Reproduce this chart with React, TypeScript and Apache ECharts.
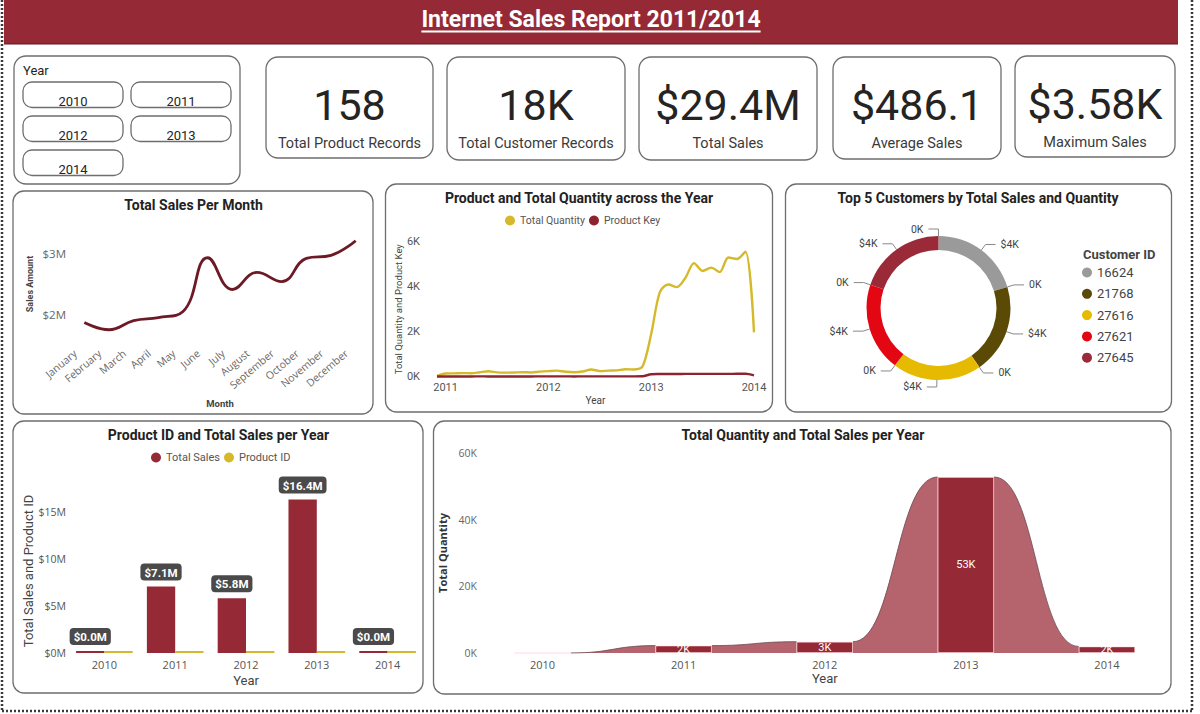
import React, { useEffect, useRef } from 'react';
import * as echarts from 'echarts';

// ---------- fonts & colours ----------
const DIN = "Roboto, 'Noto Sans', sans-serif";
const SEGOE = "'Open Sans', 'Noto Sans', sans-serif";
const MAROON = '#952a36';
const LINE_RED = '#6d1a26';
const GOLD = '#d6b92a';
const RIBBON = '#b5636c';
const CARD_STROKE = '#6e6e6e';

// ---------- data ----------
const reportTitle = 'Internet Sales Report 2011/2014';
const slicerYears = ['2010', '2011', '2012', '2013', '2014'];

const kpiValues = ['158', '18K', '$29.4M', '$486.1', '$3.58K'];
const kpiLabels = ['Total Product Records', 'Total Customer Records', 'Total Sales', 'Average Sales', 'Maximum Sales'];

const months = ['January', 'February', 'March', 'April', 'May', 'June', 'July', 'August', 'September', 'October', 'November', 'December'];
const monthlySales = [1.87e6, 1.75e6, 1.9e6, 1.95e6, 2.05e6, 2.93e6, 2.41e6, 2.69e6, 2.54e6, 2.92e6, 2.97e6, 3.21e6];

const quantityMonths = [
  '2010-12',
  '2011-01', '2011-02', '2011-03', '2011-04', '2011-05', '2011-06', '2011-07', '2011-08', '2011-09', '2011-10', '2011-11', '2011-12',
  '2012-01', '2012-02', '2012-03', '2012-04', '2012-05', '2012-06', '2012-07', '2012-08', '2012-09', '2012-10', '2012-11', '2012-12',
  '2013-01', '2013-02', '2013-03', '2013-04', '2013-05', '2013-06', '2013-07', '2013-08', '2013-09', '2013-10', '2013-11', '2013-12',
  '2014-01',
];
const monthlyQuantity = [
  40,
  140, 150, 160, 155, 200, 240, 190, 180, 185, 200, 190, 225,
  250, 270, 220, 200, 230, 320, 250, 270, 280, 330, 320, 460,
  1900, 3750, 4100, 3980, 4400, 5050, 4700, 4850, 4650, 5300, 5230, 5560,
  1970,
];
const monthlyProductKey = [
  10,
  12, 11, 12, 12, 13, 12, 11, 12, 12, 12, 12, 13,
  13, 14, 13, 12, 13, 14, 13, 13, 14, 14, 14, 20,
  110, 118, 120, 122, 124, 125, 126, 125, 126, 127, 128, 128,
  60,
];

const customerIds = ['16624', '21768', '27616', '27621', '27645'];
const customerSales = [3979, 3942, 3915, 3901, 3880];
const customerQuantity = [2, 3, 2, 2, 3];
const customerColors = ['#9a9a9a', '#5b4a06', '#e6ba00', '#e30613', '#9b2a38'];

const years = ['2010', '2011', '2012', '2013', '2014'];
const yearlySales = [43421, 7075526, 5842485, 16351550, 45695];
const yearlyProductId = [6, 38, 45, 158, 142];
const yearlyQuantity = [14, 2216, 3397, 52801, 1970];

// ---------- layout ----------
const kpiBoxes = [
  [266, 57, 167, 101],
  [447, 57, 178, 103],
  [639, 57, 178, 103],
  [833, 57, 168, 102],
  [1015, 56, 160, 101],
];
const chartBoxes = [
  [13, 191, 360, 223],
  [385.5, 184, 387, 228],
  [785.5, 184, 386, 228],
  [13, 421, 410, 272],
  [433.5, 421, 737.5, 273],
];
const chartTitles = [
  { text: 'Total Sales Per Month', x: 193.5, y: 205 },
  { text: 'Product and Total Quantity across the Year', x: 579, y: 198 },
  { text: 'Top 5 Customers by Total Sales and Quantity', x: 978, y: 198 },
  { text: 'Product ID and Total Sales per Year', x: 218.5, y: 434.5 },
  { text: 'Total Quantity and Total Sales per Year', x: 803, y: 434.5 },
];
const slicerButtons = [
  [23, 82], [131, 82], [23, 116], [131, 116], [23, 150],
];

function textWidth(text: string, font: string): number {
  const ctx = document.createElement('canvas').getContext('2d');
  if (!ctx) return text.length * 10;
  ctx.font = font;
  return ctx.measureText(text).width;
}

function card(x: number, y: number, w: number, h: number, r = 10): any {
  return {
    type: 'rect',
    z: 0,
    shape: { x, y, width: w, height: h, r },
    style: { fill: 'none', stroke: CARD_STROKE, lineWidth: 1.3 },
  };
}

function label(text: string, x: number, y: number, opts: any = {}): any {
  return {
    type: 'text',
    z: 10,
    x,
    y,
    style: {
      text,
      fill: opts.fill || '#222',
      fontSize: opts.fontSize || 13,
      fontFamily: opts.fontFamily || DIN,
      fontWeight: opts.fontWeight || 'normal',
      textAlign: opts.align || 'center',
      textVerticalAlign: 'middle',
    },
  };
}

function buildGraphics(): any[] {
  const g: any[] = [];
  // dotted page frame
  const dots = { stroke: '#3a3a3a', lineWidth: 2.5, lineDash: [2, 2] };
  g.push({ type: 'line', z: 0, shape: { x1: 2, y1: 0, x2: 2, y2: 712 }, style: dots });
  g.push({ type: 'line', z: 0, shape: { x1: 2, y1: 711, x2: 1192, y2: 711 }, style: dots });
  g.push({ type: 'line', z: 0, shape: { x1: 1192, y1: 0, x2: 1192, y2: 712 }, style: dots });

  // header band
  g.push({ type: 'rect', z: 1, shape: { x: 4, y: 0, width: 1174, height: 44 }, style: { fill: MAROON } });
  g.push({ type: 'line', z: 1, shape: { x1: 4, y1: 44, x2: 1178, y2: 44 }, style: { stroke: '#5e1a22', lineWidth: 1 } });
  const titleFont = `bold 23px ${DIN}`;
  const tw = textWidth(reportTitle, titleFont);
  g.push(label(reportTitle, 591, 19.5, { fill: '#ffffff', fontSize: 23, fontWeight: 'bold' }));
  g.push({ type: 'line', z: 10, shape: { x1: 591 - tw / 2, y1: 31.5, x2: 591 + tw / 2, y2: 31.5 }, style: { stroke: '#ffffff', lineWidth: 2 } });

  // year slicer
  g.push(card(14, 56, 226, 128, 12));
  g.push(label('Year', 23, 70, { fontSize: 13, align: 'left', fill: '#252423' }));
  slicerButtons.forEach(([bx, by], i) => {
    g.push(card(bx, by, 100, 25.5, 9));
    g.push(label(slicerYears[i], bx + 50, by + 19, { fontSize: 13, fill: '#252423' }));
  });

  // KPI cards
  kpiBoxes.forEach(([x, y, w, h], i) => {
    g.push(card(x, y, w, h, 12));
    g.push(label(kpiValues[i], x + w / 2, y + 48, { fontSize: 43, fill: '#252423' }));
    g.push(label(kpiLabels[i], x + w / 2, y + 86, { fontSize: 14.5, fill: '#3a3a3a' }));
  });

  // chart cards and titles
  chartBoxes.forEach(([x, y, w, h]) => g.push(card(x, y, w, h, 11)));
  chartTitles.forEach((t) => g.push(label(t.text, t.x, t.y, { fontSize: 14, fontWeight: 'bold', fill: '#222' })));

  // donut legend heading
  g.push(label('Customer ID', 1083, 254, { fontSize: 13, fontWeight: 'bold', align: 'left', fill: '#444' }));
  return g;
}

function renderRibbon(_params: any, api: any) {
  const i = api.value(0);
  const from = api.coord([i, api.value(1)]);
  const to = api.coord([i + 1, api.value(2)]);
  const base = api.coord([i, 0])[1];
  const half = api.size([1, 0])[0] * 0.2;
  const x1 = from[0] + half;
  const x2 = to[0] - half;
  const xm = (x1 + x2) / 2;
  const top = `M${x1} ${from[1]} C${xm} ${from[1]} ${xm} ${to[1]} ${x2} ${to[1]}`;
  return {
    type: 'group',
    children: [
      { type: 'path', shape: { pathData: `${top} L${x2} ${base} L${x1} ${base} Z` }, style: { fill: RIBBON } },
      { type: 'path', shape: { pathData: top }, style: { fill: 'none', stroke: '#6b4a4f', lineWidth: 0.8 } },
    ],
  };
}

function buildOption(): any {
  const axisName = (size: number, weight: any = 'normal', color = '#444', family = DIN) => ({
    fontSize: size, fontWeight: weight, color, fontFamily: family,
  });
  const hidden = { show: false };

  const pieData: any[] = [];
  customerIds.forEach((id, i) => {
    pieData.push({ name: id, value: customerSales[i], measure: 'sales', itemStyle: { color: customerColors[i] } });
    pieData.push({ name: id, value: customerQuantity[i], measure: 'quantity', itemStyle: { color: customerColors[i] } });
  });

  const ribbonData = yearlyQuantity.slice(0, -1).map((q, i) => [i, q, yearlyQuantity[i + 1]]);

  return {
    animation: false,
    backgroundColor: '#ffffff',
    graphic: { elements: buildGraphics() },
    grid: [
      { left: 72, top: 223, width: 296, height: 122 },
      { left: 437, top: 241.7, width: 317, height: 135 },
      { left: 69, top: 488.8, width: 354, height: 164.2 },
      { left: 472, top: 453, width: 705.5, height: 200 },
    ],
    legend: [
      {
        data: ['Total Quantity', 'Product Key'],
        left: 505, top: 215, padding: 0, itemGap: 4, icon: 'circle', itemWidth: 10, itemHeight: 10,
        textStyle: { fontSize: 10.5, color: '#555', fontFamily: DIN },
      },
      {
        data: customerIds,
        orient: 'vertical', left: 1082, top: 266, padding: 0, itemGap: 8.3, icon: 'circle', itemWidth: 10, itemHeight: 10,
        textStyle: { fontSize: 13, color: '#444', fontFamily: DIN },
      },
      {
        data: ['Total Sales', 'Product ID'],
        left: 151, top: 452, padding: 0, itemGap: 4, icon: 'circle', itemWidth: 10, itemHeight: 10,
        textStyle: { fontSize: 11, color: '#555', fontFamily: DIN },
      },
    ],
    xAxis: [
      {
        gridIndex: 0, type: 'category', data: months, boundaryGap: true,
        axisLine: hidden, axisTick: hidden,
        axisLabel: { interval: 0, rotate: 40, margin: -1, padding: [0, 12, 0, 0], fontSize: 10.5, color: '#6a6a6a', fontFamily: SEGOE },
        name: 'Month', nameLocation: 'middle', nameGap: 53, nameTextStyle: axisName(9.5, 'bold'),
      },
      {
        gridIndex: 1, type: 'category', data: quantityMonths, boundaryGap: false,
        axisLine: hidden, axisTick: hidden,
        axisLabel: {
          interval: (_i: number, v: string) => v.endsWith('-01'),
          formatter: (v: string) => v.slice(0, 4),
          margin: 5, fontSize: 11, color: '#555', fontFamily: DIN,
        },
        name: 'Year', nameLocation: 'middle', nameGap: 19, nameTextStyle: axisName(10),
      },
      {
        gridIndex: 2, type: 'category', data: years,
        axisLine: hidden, axisTick: hidden,
        axisLabel: { margin: 6, fontSize: 11, color: '#555', fontFamily: SEGOE },
        name: 'Year', nameLocation: 'middle', nameGap: 21, nameTextStyle: axisName(13),
      },
      {
        gridIndex: 3, type: 'category', data: years,
        axisLine: hidden, axisTick: hidden,
        axisLabel: { margin: 6, fontSize: 11, color: '#555', fontFamily: SEGOE },
        name: 'Year', nameLocation: 'middle', nameGap: 19, nameTextStyle: axisName(13),
      },
    ],
    yAxis: [
      {
        gridIndex: 0, type: 'value', min: 1.5e6, max: 3.5e6, interval: 5e5,
        splitLine: hidden, axisLine: hidden, axisTick: hidden,
        axisLabel: {
          formatter: (v: number) => (v % 1e6 === 0 ? `$${v / 1e6}M` : ''),
          margin: 6, fontSize: 11.5, color: '#666', fontFamily: SEGOE,
        },
        name: 'Sales Amount', nameLocation: 'middle', nameGap: 38, nameTextStyle: axisName(9, 'bold'),
      },
      {
        gridIndex: 1, type: 'value', min: 0, max: 6000, interval: 2000,
        splitLine: hidden, axisLine: hidden, axisTick: hidden,
        axisLabel: { formatter: (v: number) => `${v / 1000}K`, margin: 17, fontSize: 11, color: '#555', fontFamily: DIN },
        name: 'Total Quantity and Product Key', nameLocation: 'middle', nameGap: 34, nameTextStyle: axisName(9.5),
      },
      {
        gridIndex: 2, type: 'value', min: 0, max: 17.5e6, interval: 5e6,
        splitLine: hidden, axisLine: hidden, axisTick: hidden,
        axisLabel: { formatter: (v: number) => `$${v / 1e6}M`, showMaxLabel: false, margin: 3, fontSize: 10.5, color: '#555', fontFamily: SEGOE },
        name: 'Total Sales and Product ID', nameLocation: 'middle', nameGap: 33, nameTextStyle: axisName(13),
      },
      {
        gridIndex: 3, type: 'value', min: 0, max: 60000, interval: 20000,
        splitLine: hidden, axisLine: hidden, axisTick: hidden,
        axisLabel: { formatter: (v: number) => `${v / 1000}K`, margin: -5, fontSize: 10.5, color: '#666', fontFamily: SEGOE },
        name: 'Total Quantity', nameLocation: 'middle', nameGap: 22, nameTextStyle: axisName(11, 'bold', '#333', SEGOE),
      },
    ],
    series: [
      {
        name: 'Sales Amount', type: 'line', xAxisIndex: 0, yAxisIndex: 0, data: monthlySales,
        smooth: 0.45, symbol: 'none', lineStyle: { color: LINE_RED, width: 2.8 }, itemStyle: { color: LINE_RED },
      },
      {
        name: 'Total Quantity', type: 'line', xAxisIndex: 1, yAxisIndex: 1, data: monthlyQuantity,
        smooth: 0.3, symbol: 'none', lineStyle: { color: GOLD, width: 2.4 }, itemStyle: { color: GOLD },
      },
      {
        name: 'Product Key', type: 'line', xAxisIndex: 1, yAxisIndex: 1, data: monthlyProductKey,
        smooth: 0.3, symbol: 'none', lineStyle: { color: '#8e2330', width: 2.4 }, itemStyle: { color: '#8e2330' },
      },
      {
        name: 'Top Customers', type: 'pie', center: [938.5, 308], radius: [58, 72], startAngle: 90, clockwise: true,
        avoidLabelOverlap: false, data: pieData,
        label: {
          formatter: (p: any) => (p.data.measure === 'sales' ? `$${Math.round(p.value / 1000)}K` : `${Math.round(p.value / 1000)}K`),
          fontSize: 10.5, color: '#444', fontFamily: DIN,
        },
        labelLine: { length: 7, length2: 10, lineStyle: { color: '#888', width: 1 } },
      },
      {
        name: 'Total Sales', type: 'bar', xAxisIndex: 2, yAxisIndex: 2, data: yearlySales,
        barWidth: '40%', barGap: '0%', barMinHeight: 2, itemStyle: { color: MAROON },
        label: {
          show: true, position: 'top', distance: 6,
          formatter: (p: any) => `$${(p.value / 1e6).toFixed(1)}M`,
          backgroundColor: '#4a4a4a', borderRadius: 4, padding: [3, 4, 2, 4],
          color: '#ffffff', fontWeight: 'bold', fontSize: 11.5, fontFamily: DIN,
        },
      },
      {
        name: 'Product ID', type: 'bar', xAxisIndex: 2, yAxisIndex: 2, data: yearlyProductId,
        barWidth: '40%', barGap: '0%', barMinHeight: 2, itemStyle: { color: GOLD },
      },
      {
        name: 'Quantity Ribbons', type: 'custom', xAxisIndex: 3, yAxisIndex: 3, data: ribbonData,
        renderItem: renderRibbon, z: 2, silent: true,
      },
      {
        name: 'Quantity per Year', type: 'bar', xAxisIndex: 3, yAxisIndex: 3, data: yearlyQuantity,
        barWidth: '40%', z: 3, itemStyle: { color: MAROON, borderColor: 'rgba(255,210,215,0.45)', borderWidth: 1 },
        label: {
          show: true, position: 'inside',
          formatter: (p: any) => (p.value < 500 ? '' : `${Math.round(p.value / 1000)}K`),
          color: '#ffffff', fontSize: 11, fontFamily: DIN,
        },
      },
    ],
  };
}

export default function App() {
  const ref = useRef<HTMLDivElement>(null);
  useEffect(() => {
    if (!ref.current) return;
    const chart = echarts.init(ref.current, undefined, { renderer: 'svg' });
    chart.setOption(buildOption());
    return () => chart.dispose();
  }, []);
  return (
    <div
      ref={ref}
      style={{ position: 'absolute', left: 0, top: 0, width: 1200, height: 714, background: '#ffffff' }}
    />
  );
}
